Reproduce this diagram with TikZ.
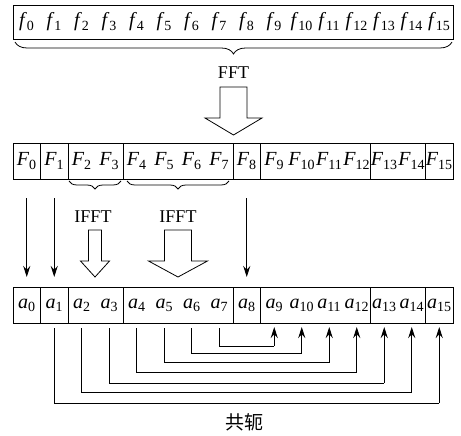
\documentclass[tikz,border=0pt]{standalone}
\usepackage{fontspec}
\setmainfont{Liberation Serif}
\newfontfamily\cjk{Noto Sans CJK SC}
\usetikzlibrary{arrows.meta,decorations.pathreplacing,calc}
\newcommand\lbl[2]{\textit{#1}\textsubscript{#2}}
\begin{document}
\begin{tikzpicture}[x=1pt,y=-1pt,
  every node/.style={font=\fontsize{18}{20}\selectfont, inner sep=0pt},
  cell/.style={draw, line width=0.8pt, minimum height=36pt},
  lbltext/.style={font=\fontsize{20}{22}\selectfont},
  arr/.style={line width=0.8pt, -{Stealth[length=11pt,width=7pt]}},
  link/.style={line width=0.8pt},
  blk/.style={draw, line width=0.8pt, fill=white, line join=miter},
  brc/.style={decorate, line width=0.8pt, decoration={brace, mirror, amplitude=#1}}]
\useasboundingbox (0,0) rectangle (461,436);

% input samples
\node[cell, minimum width=440pt, minimum height=34pt] (top) at (233,22) {};
\foreach \i in {0,...,15}
  \node[lbltext] (f\i) at ({26.75+27.5*\i},22) {\lbl{f}{\i}};
\draw[brc=12pt] (15,42) -- (452,42);
\node (fft) at (233.5,73) {FFT};
\draw[blk] (220,87) -- (247,87) -- (247,118) -- (262,118) -- (233.5,135)
  -- (205,118) -- (220,118) -- cycle;

% spectrum and output rows, grouped cells
\foreach \s/\e in {0/0,1/1,2/3,4/7,8/8,9/12,13/14,15/15}{
  \pgfmathsetmacro\cx{13+27.5*(\s+\e+1)/2}
  \pgfmathsetmacro\w{27.5*(\e-\s+1)}
  \node[cell, minimum width=\w pt] (M\s) at (\cx,161) {};
  \node[cell, minimum width=\w pt] (A\s) at (\cx,305) {};
}
\foreach \i in {0,...,15}{
  \node[lbltext] (F\i) at ({26.75+27.5*\i},161) {\lbl{F}{\i}};
  \node[lbltext] (a\i) at ({26.75+27.5*\i},305) {\lbl{a}{\i}};
}

% braces under the grouped spectrum cells
\draw[brc=8pt] (69,181) -- (121,181);
\draw[brc=8pt] (127,181) -- (229,181);

% direct copies
\foreach \i in {0,1,8}
  \draw[arr] (F\i |- 0,198) -- (a\i |- 0,277);

% inverse transforms
\node (ifftA) at (93,217) {IFFT};
\node (ifftB) at (178,217) {IFFT};
\draw[blk] (88.5,230) -- (101.5,230) -- (101.5,261) -- (109.5,261) -- (95,277)
  -- (80.5,261) -- (88.5,261) -- cycle;
\draw[blk] (164.5,230) -- (191.5,230) -- (191.5,261) -- (207.5,261) -- (178,277)
  -- (148.5,261) -- (164.5,261) -- cycle;

% conjugate symmetry links
\foreach \k/\yy in {7/346,6/353.5,5/362.5,4/372,3/383,2/392,1/403}{
  \pgfmathtruncatemacro\m{16-\k}
  \draw[link] (a\k |- 0,328) -- (a\k |- 0,\yy) -- (a\m |- 0,\yy);
  \draw[arr] (a\m |- 0,\yy) -- (a\m |- 0,327);
}
\node[font=\cjk\fontsize{19}{21}\selectfont] (conj) at (244,422) {共轭};
\end{tikzpicture}
\end{document}
